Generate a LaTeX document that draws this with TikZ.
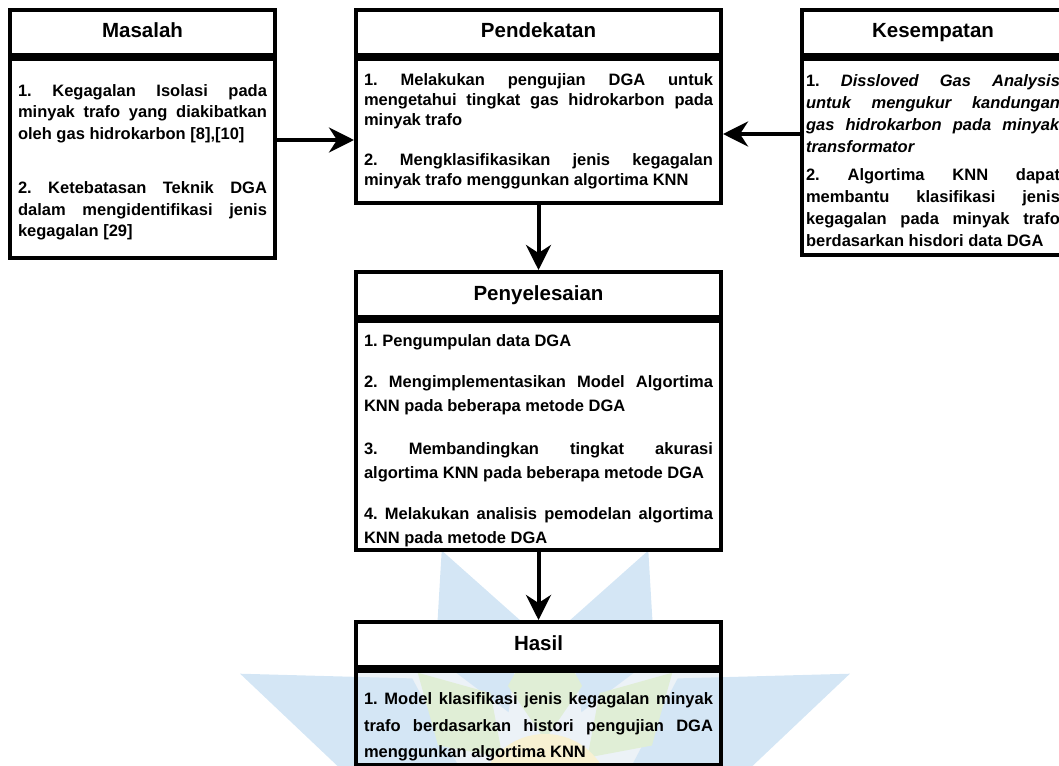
\documentclass[tikz,border=0pt]{standalone}
\usepackage{fontspec}
\setmainfont{Liberation Sans}
\usetikzlibrary{positioning,arrows.meta}
\tolerance=10000
\hyphenpenalty=10000
\frenchspacing
\definecolor{logoblue}{RGB}{212,230,245}
\definecolor{logogreen}{RGB}{224,238,214}
\definecolor{logoyellow}{RGB}{248,241,210}
\definecolor{logotint}{RGB}{236,242,247}
\tikzset{
    judul/.style={draw, line width=4pt, fill=white, anchor=north west, inner sep=0pt,
        minimum height=45pt, text height=15pt, text depth=4pt, font=\bfseries\fontsize{20.5}{24}\selectfont},
    isi/.style={draw, line width=4pt, align=justify, inner xsep=8pt, inner ysep=0pt,
        font=\bfseries\fontsize{16.5}{#1}\selectfont},
    panah/.style={line width=4pt, -{Stealth[length=25pt, width=25pt, inset=8pt]}}
}
\begin{document}
\begin{tikzpicture}[x=1pt, y=-1pt]
    \useasboundingbox (0,0) rectangle (1059,765);
    \fill[logotint] (356,671) rectangle (721,765);
    \fill[logoblue] (508.6,712.2) -- (521.5,621.5) -- (441.7,550.5) -- (435.4,657.2) -- cycle;
    \fill[logoblue] (581.4,712.2) -- (568.5,621.5) -- (648.3,550.5) -- (654.6,657.2) -- cycle;
    \fill[logoblue] (457.2,763.6) -- (412.3,678.4) -- (240.1,673.7) -- (365.2,792.2) -- cycle;
    \fill[logoblue] (632.8,763.6) -- (677.7,678.4) -- (849.9,673.7) -- (724.8,792.2) -- cycle;
    \fill[logogreen] (545,740) -- (582.1,685.9) -- (545,620) -- (507.9,685.9) -- cycle;
    \fill[logogreen] (502.6,757.6) -- (490.5,693.1) -- (417.7,672.7) -- (438.1,745.5) -- cycle;
    \fill[logogreen] (587.4,757.6) -- (599.5,693.1) -- (672.3,672.7) -- (651.9,745.5) -- cycle;
    \fill[logogreen] (485,800) -- (430.9,762.9) -- (365,800) -- cycle;
    \fill[logogreen] (605,800) -- (659.1,762.9) -- (725,800) -- cycle;
    \fill[logoyellow] (545,800) circle (66);

    \node[judul, minimum width=265pt] (masalah) at (8,8) {Masalah};
    \node[isi=21.5pt, text width=249pt, minimum height=199pt, below=0pt of masalah] (masalahisi)
        {1. Kegagalan Isolasi pada\linebreak minyak trafo yang diakibatkan\linebreak oleh gas hidrokarbon [8],[10]\par\vspace{33pt}
         2. Ketebatasan Teknik DGA\linebreak dalam mengidentifikasi jenis\linebreak kegagalan [29]\par\kern-8pt};

    \node[judul, minimum width=365pt] (pendekatan) at (354,8) {Pendekatan};
    \node[isi=20pt, text width=349pt, minimum height=144pt, below=0pt of pendekatan] (pendekatanisi)
        {1. Melakukan pengujian DGA untuk\linebreak mengetahui tingkat gas hidrokarbon pada\linebreak minyak trafo\par\vspace{20pt}
         2. Mengklasifikasikan jenis kegagalan\linebreak minyak trafo menggunkan algortima KNN};

    \node[judul, minimum width=262pt] (kesempatan) at (800,8) {Kesempatan};
    \node[isi=22pt, inner xsep=4pt, text width=254pt, minimum height=196pt, below=0pt of kesempatan] (kesempatanisi)
        {1. \textit{Dissloved Gas Analysis}\linebreak \textit{untuk mengukur kandungan}\linebreak \textit{gas hidrokarbon pada minyak}\linebreak \textit{transformator}\par\vspace{6pt}
         2. Algortima KNN dapat\linebreak membantu klasifikasi jenis\linebreak kegagalan pada minyak trafo\linebreak berdasarkan hisdori data DGA\par\kern-8pt};

    \node[judul, minimum width=365pt] (penyelesaian) at (354,270) {Penyelesaian};
    \node[isi=24pt, text width=349pt, minimum height=229pt, below=0pt of penyelesaian] (penyelesaianisi)
        {1. Pengumpulan data DGA\par\vspace{17pt}
         2. Mengimplementasikan Model Algortima\linebreak KNN pada beberapa metode DGA\par\vspace{19pt}
         3. Membandingkan tingkat akurasi\linebreak algortima KNN pada beberapa metode DGA\par\vspace{17pt}
         4. Melakukan analisis pemodelan algortima\linebreak KNN pada metode DGA\par\kern-10pt};

    \node[judul, minimum width=365pt] (hasil) at (354,620) {Hasil};
    \node[isi=26.5pt, text width=349pt, minimum height=94pt, below=0pt of hasil] (hasilisi)
        {1. Model klasifikasi jenis kegagalan minyak\linebreak trafo berdasarkan histori pengujian DGA\linebreak menggunkan algortima KNN\par\kern-18pt};

    \draw[panah] ([yshift=18.5pt]masalahisi.east) -- ([yshift=18.5pt]masalahisi.east -| pendekatanisi.west);
    \draw[panah] ([yshift=23pt]kesempatanisi.west) -- ([yshift=23pt]kesempatanisi.west -| pendekatanisi.east);
    \draw[panah] (pendekatanisi.south) -- (penyelesaian.north);
    \draw[panah] (penyelesaianisi.south) -- (hasil.north);
\end{tikzpicture}
\end{document}
